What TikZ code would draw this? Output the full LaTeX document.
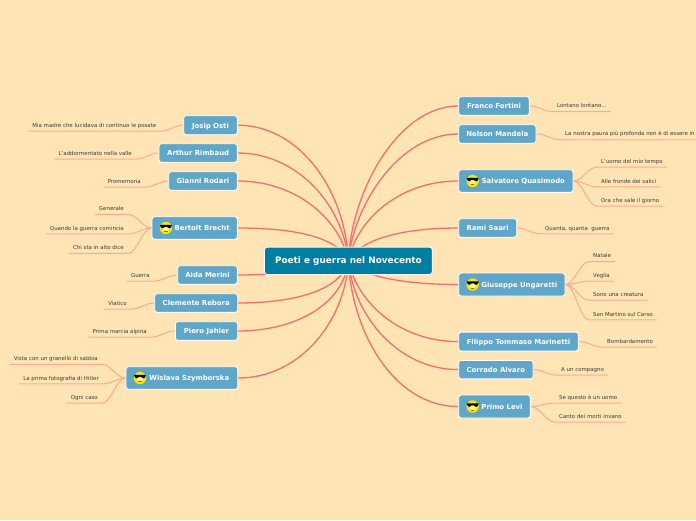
\documentclass[tikz,border=0pt]{standalone}
\usepackage{fontspec}
\setmainfont{DejaVu Sans}
\pgfdeclarelayer{page}\pgfdeclarelayer{links}
\pgfsetlayers{page,links,main}
\definecolor{pagebg}{HTML}{FFE4B5}
\definecolor{topicblue}{HTML}{5FA6C9}
\definecolor{hubblue}{HTML}{007FA3}
\definecolor{mainlink}{HTML}{F76D6D}
\definecolor{leaflink}{HTML}{FFA98F}
\definecolor{leaftext}{HTML}{3B3B33}
\tikzset{
  hubbox/.style={draw=white,line width=0.9pt,fill=hubblue,rounded corners=3pt,text=white,font=\bfseries\fontsize{8.9}{10}\selectfont,inner sep=0pt,minimum width=168pt,minimum height=27.5pt,text height=7.3pt,text depth=1pt},
  topic/.style={draw=white,line width=0.9pt,fill=topicblue,rounded corners=2.5pt,text=white,font=\bfseries\fontsize{6.9}{9}\selectfont,inner sep=0pt,text height=6.4pt,text depth=0.6pt},
  leaf/.style={text=leaftext,font=\fontsize{5.45}{6}\selectfont,inner ysep=0pt,inner xsep=4pt,minimum height=11.4pt,text height=5pt,text depth=1pt},
  mainline/.style={draw=mainlink,line width=1.3pt},
  leafline/.style={draw=leaflink,line width=1pt}
}
% #1 name, #2 left, #3 right, #4 y centre, #5 height, #6 text
\newcommand\topicnode[6]{\node[topic,minimum width=#3pt-#2pt,minimum height=#5pt] (#1) at ({(#2+#3)/2},#4) {#6};}
\newcommand\coolface[1]{\begin{scope}[shift={(#1.west)},xshift=14.4pt]
  \fill[yellow!85!orange] (0,0) circle (6.2pt);
  \fill[yellow!45!white] (0,1) circle (3.2pt);
  \fill[black] (-6,-3.2) -- (6,-3.2) -- (5.6,-2) .. controls (5.2,1) and (1.6,1) .. (0.8,-1.2) -- (-0.8,-1.2) .. controls (-1.6,1) and (-5.2,1) .. (-5.6,-2) -- cycle;
  \draw[orange!70!black,line width=0.4pt] (-1.6,3.6) -- (1.6,3.6);
\end{scope}}
\newcommand\leafL[2]{\draw[leafline] (#1.west) .. controls +(-9,0) and +(9,0) .. (#2.south east) -- (#2.south west);}
\newcommand\leafR[2]{\draw[leafline] (#1.east) .. controls +(9,0) and +(-9,0) .. (#2.south west) -- (#2.south east);}
\begin{document}
\begin{tikzpicture}[x=1pt,y=-1pt]
\begin{pgfonlayer}{page}
\fill[pagebg] (0,0) rectangle (696,520);
\end{pgfonlayer}
\useasboundingbox (0,0) rectangle (696,520);
\node[hubbox] (hub) at (348.4,260.8) {Poeti e guerra nel Novecento};
\topicnode{josip}{183.7}{237.3}{125.2}{19}{Josip Osti}
\topicnode{arthur}{159}{237.3}{153}{18.6}{Arthur Rimbaud}
\topicnode{gianni}{168.7}{237.3}{181}{18.6}{Gianni Rodari}
\topicnode{bertolt}{152}{237.3}{228}{22.6}{\hspace{15pt}Bertolt Brecht}
\topicnode{aida}{177.7}{237.3}{275}{18.6}{Aida Merini}
\topicnode{clemente}{154.7}{237.7}{303}{18.6}{Clemente Rebora}
\topicnode{piero}{175.3}{237.7}{331}{18.6}{Piero Jahier}
\topicnode{wislava}{126}{237.7}{378}{22.6}{\hspace{15pt}Wislava Szymborska}
\topicnode{franco}{458.7}{529.3}{106}{18.6}{Franco Fortini}
\topicnode{nelson}{458.7}{536}{134}{18.6}{Nelson Mandela}
\topicnode{salvatore}{458.7}{573}{181}{22.6}{\hspace{15pt}Salvatore Quasimodo}
\topicnode{rami}{458.7}{516.7}{228}{18.6}{Rami Saari}
\topicnode{giuseppe}{458.7}{565}{284.5}{23}{\hspace{15pt}Giuseppe Ungaretti}
\topicnode{filippo}{458.7}{578.3}{341.6}{19}{Filippo Tommaso Marinetti}
\topicnode{corrado}{458.7}{533}{369.6}{18.6}{Corrado Alvaro}
\topicnode{primo}{458.7}{530.3}{406.5}{23}{\hspace{15pt}Primo Levi}
\coolface{bertolt}\coolface{wislava}\coolface{salvatore}\coolface{giuseppe}\coolface{primo}
% leaves left
\node[leaf,anchor=east] (l1) at (160.5,125.3) {Mia madre che lucidava di continuo le posate};
\node[leaf,anchor=east] (l2) at (136,153.2) {L'addormentato nella valle};
\node[leaf,anchor=east] (l3) at (145,181.2) {Promemoria};
\node[leaf,anchor=east] (l4a) at (128,208.5) {Generale};
\node[leaf,anchor=east] (l4b) at (128,228) {Quando la guerra comincia};
\node[leaf,anchor=east] (l4c) at (128,247.5) {Chi sta in alto dice};
\node[leaf,anchor=east] (l5) at (154,275.2) {Guerra};
\node[leaf,anchor=east] (l6) at (131,303.2) {Viatico};
\node[leaf,anchor=east] (l7) at (151,331.2) {Prima marcia alpina};
\node[leaf,anchor=east] (l8a) at (102,358.4) {Vista con un granello di sabbia};
\node[leaf,anchor=east] (l8b) at (103,378) {La prima fotografia di Hitler};
\node[leaf,anchor=east] (l8c) at (102,397.3) {Ogni caso};
% leaves right
\node[leaf,anchor=west] (r1) at (553,105.8) {Lontano lontano...};
\node[leaf,anchor=west] (r2) at (561,133.9) {La nostra paura più profonda non è di essere in};
\node[leaf,anchor=west] (r3a) at (597,161.2) {L'uomo del mio tempo};
\node[leaf,anchor=west] (r3b) at (597,181) {Alle fronde dei salici};
\node[leaf,anchor=west] (r3c) at (597,200.3) {Ora che sale il giorno};
\node[leaf,anchor=west] (r4) at (541,228) {Quanta, quanta\ \ guerra};
\node[leaf,anchor=west] (r5a) at (589,255.8) {Natale};
\node[leaf,anchor=west] (r5b) at (589,275.2) {Veglia};
\node[leaf,anchor=west] (r5c) at (589,294.3) {Sono una creatura};
\node[leaf,anchor=west] (r5d) at (589,314) {San Martino sul Carso};
\node[leaf,anchor=west] (r6) at (603,341.3) {Bombardamento};
\node[leaf,anchor=west] (r7) at (557,369.3) {A un compagno};
\node[leaf,anchor=west] (r8a) at (555,397.2) {Se questo è un uomo};
\node[leaf,anchor=west] (r8b) at (555,416.2) {Canto dei morti invano};
\begin{pgfonlayer}{links}
\draw[mainline] (josip.east) .. controls +(62,0) and +(-3,-70) .. (hub.center);
\draw[mainline] (arthur.east) .. controls +(60,0) and +(-5,-55) .. (hub.center);
\draw[mainline] (gianni.east) .. controls +(60,0) and +(-8,-40) .. (hub.center);
\draw[mainline] (bertolt.east) .. controls +(50,0) and +(-12,-26) .. (hub.center);
\draw[mainline] (aida.east) .. controls +(30,0) and +(-40,12) .. (hub.center);
\draw[mainline] (clemente.east) .. controls +(50,0) and +(-8,32) .. (hub.center);
\draw[mainline] (piero.east) .. controls +(55,0) and +(-5,45) .. (hub.center);
\draw[mainline] (wislava.east) .. controls +(62,0) and +(-3,60) .. (hub.center);
\draw[mainline] (franco.west) .. controls +(-60,0) and +(3,-70) .. (hub.center);
\draw[mainline] (nelson.west) .. controls +(-60,0) and +(5,-55) .. (hub.center);
\draw[mainline] (salvatore.west) .. controls +(-60,0) and +(8,-40) .. (hub.center);
\draw[mainline] (rami.west) .. controls +(-55,0) and +(12,-22) .. (hub.center);
\draw[mainline] (giuseppe.west) .. controls +(-50,0) and +(15,17) .. (hub.center);
\draw[mainline] (filippo.west) .. controls +(-60,0) and +(8,40) .. (hub.center);
\draw[mainline] (corrado.west) .. controls +(-60,0) and +(5,55) .. (hub.center);
\draw[mainline] (primo.west) .. controls +(-65,0) and +(3,70) .. (hub.center);
\leafL{josip}{l1}\leafL{arthur}{l2}\leafL{gianni}{l3}\leafL{bertolt}{l4a}\leafL{bertolt}{l4b}\leafL{bertolt}{l4c}
\leafL{aida}{l5}\leafL{clemente}{l6}\leafL{piero}{l7}\leafL{wislava}{l8a}\leafL{wislava}{l8b}\leafL{wislava}{l8c}
\leafR{franco}{r1}\leafR{nelson}{r2}\leafR{salvatore}{r3a}\leafR{salvatore}{r3b}\leafR{salvatore}{r3c}\leafR{rami}{r4}
\leafR{giuseppe}{r5a}\leafR{giuseppe}{r5b}\leafR{giuseppe}{r5c}\leafR{giuseppe}{r5d}\leafR{filippo}{r6}\leafR{corrado}{r7}\leafR{primo}{r8a}\leafR{primo}{r8b}
\end{pgfonlayer}
\end{tikzpicture}
\end{document}
